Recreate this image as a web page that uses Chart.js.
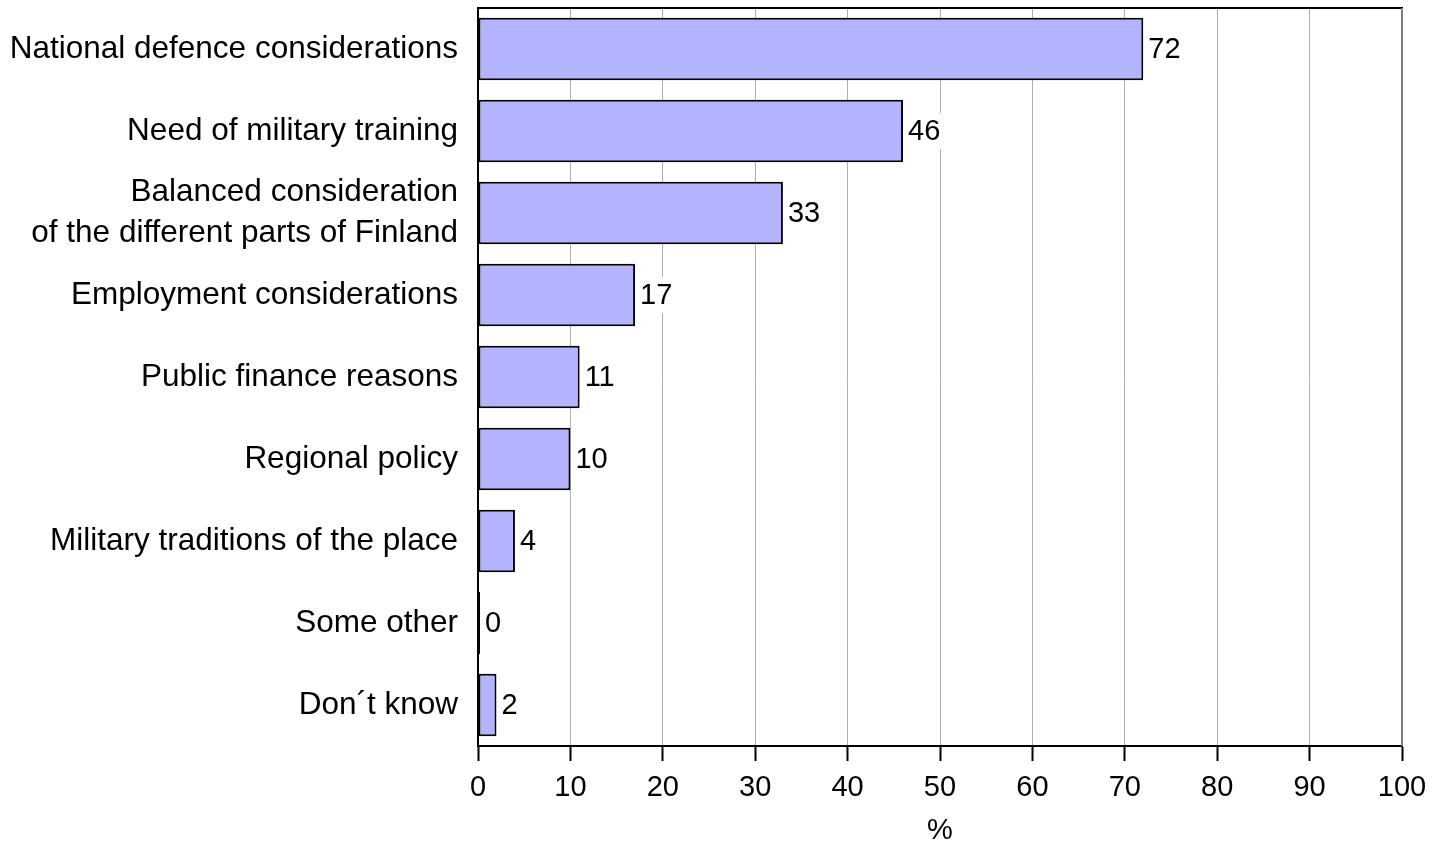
<!DOCTYPE html>
<html>
<head>
<meta charset="utf-8">
<script src="https://cdn.jsdelivr.net/npm/chart.js@4"></script>
<style>
  html, body { margin: 0; padding: 0; background: #fff; }
  #wrap { width: 1446px; height: 848px; }
</style>
</head>
<body>
<div id="wrap"><canvas id="graphe"></canvas></div>
<script>
// categories (top to bottom)
const categories = [
  'National defence considerations',
  'Need of military training',
  ['Balanced consideration', 'of the different parts of Finland'],
  'Employment considerations',
  'Public finance reasons',
  'Regional policy',
  'Military traditions of the place',
  'Some other',
  'Don\u00b4t know'
]
const valeurs = [72, 46, 33, 17, 11, 10, 4, 0, 2]
const xTicks = [0, 10, 20, 30, 40, 50, 60, 70, 80, 90, 100]

const police = "'Liberation Sans', Arial, sans-serif"

// value labels with white background, at the end of each bar
const etiquettes = {
  id: 'etiquettes',
  afterDatasetsDraw(chart) {
    const ctx = chart.ctx
    const meta = chart.getDatasetMeta(0)
    ctx.save()
    ctx.font = '29px ' + police
    ctx.textBaseline = 'middle'
    meta.data.forEach((bar, i) => {
      const txt = String(valeurs[i])
      const w = ctx.measureText(txt).width
      const x = bar.x + 4
      ctx.fillStyle = '#fff'
      ctx.fillRect(x, bar.y - 18, w + 3, 36)
      ctx.fillStyle = '#000'
      ctx.fillText(txt, x + 1, bar.y + 1)
    })
    // frame: black top, gray right
    const a = chart.chartArea
    ctx.lineWidth = 2
    ctx.strokeStyle = '#000'
    ctx.beginPath(); ctx.moveTo(a.left - 1, a.top); ctx.lineTo(a.right + 1, a.top); ctx.stroke()
    ctx.strokeStyle = '#808080'
    ctx.beginPath(); ctx.moveTo(a.right, a.top); ctx.lineTo(a.right, a.bottom); ctx.stroke()
    ctx.restore()
  }
}

const ctx = document.getElementById('graphe')
new Chart(ctx, {
  type: 'bar',
  data: {
    labels: categories,
    datasets: [{
      data: valeurs,
      backgroundColor: '#b3b3ff',
      borderColor: '#000',
      borderWidth: 2,
      borderSkipped: false,
      categoryPercentage: 1,
      barPercentage: 0.76,
      minBarLength: 2
    }]
  },
  options: {
    indexAxis: 'y',
    responsive: true,
    maintainAspectRatio: false,
    animation: false,
    layout: { padding: { top: 8, right: 44, bottom: 0, left: 0 } },
    plugins: {
      legend: { display: false },
      tooltip: { enabled: false }
    },
    scales: {
      x: {
        min: 0,
        max: 100,
        afterBuildTicks: s => { s.ticks = xTicks.map(v => ({ value: v })) },
        grid: { color: '#b0b0b0', lineWidth: 1, tickLength: 15, tickColor: '#000', tickWidth: 2 },
        border: { color: '#000', width: 2 },
        ticks: { color: '#000', font: { family: police, size: 29 }, padding: 10, autoSkip: false, maxRotation: 0 },
        title: { display: true, text: '%', color: '#000', font: { family: police, size: 29 }, padding: { top: 0, bottom: 0 } },
        afterFit: s => { s.height = 102; s.paddingLeft = 0; s.paddingRight = 0 }
      },
      y: {
        grid: { display: false, drawTicks: false },
        border: { color: '#000', width: 2 },
        ticks: { color: '#000', font: { family: police, size: 31.5, lineHeight: 1.3 }, padding: 20, autoSkip: false },
        afterFit: s => { s.width = 478; s.paddingTop = 0; s.paddingBottom = 0 }
      }
    }
  },
  plugins: [etiquettes]
})
</script>
</body>
</html>
